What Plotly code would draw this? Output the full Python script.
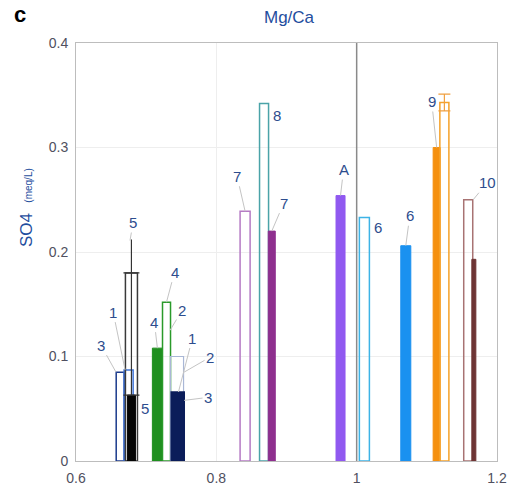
import plotly.graph_objects as go

# ---- data ----
bar_x = [0.663, 0.675, 0.679, 0.679, 0.716, 0.729, 0.744, 0.745, 0.841, 0.868, 0.879,
         0.977, 1.011, 1.070, 1.114, 1.125, 1.159, 1.167]
bar_y = [0.085, 0.087, 0.180, 0.063, 0.108, 0.152, 0.100, 0.066, 0.239, 0.342, 0.220,
         0.254, 0.233, 0.206, 0.300, 0.343, 0.250, 0.193]
bar_filled = [False, False, False, True, True, False, False, True, False, False, True,
              True, False, True, True, False, False, True]
bar_err_plus = [0, 0, 0.032, 0.117, 0, 0, 0, 0, 0, 0, 0, 0, 0, 0, 0, 0.008, 0, 0]
bar_err_minus = [0, 0, 0, 0, 0, 0, 0, 0, 0, 0, 0, 0, 0, 0, 0, 0.008, 0, 0]

label_text = ["3", "1", "5", "5", "4", "4", "2", "1", "2", "3", "7", "8", "7", "A",
              "6", "6", "9", "10"]
label_x = [0.657, 0.670, 0.677, 0.699, 0.716, 0.729, 0.734, 0.746, 0.754, 0.754, 0.841,
           0.887, 0.879, 0.977, 1.031, 1.070, 1.114, 1.166]
label_y = [0.085, 0.087, 0.211, 0.050, 0.108, 0.152, 0.125, 0.066, 0.085, 0.058, 0.239,
           0.331, 0.220, 0.254, 0.223, 0.206, 0.300, 0.250]

xticks = [0.6, 0.8, 1.0, 1.2]
xtick_text = ["0.6", "0.8", "1", "1.2"]
yticks = [0, 0.1, 0.2, 0.3, 0.4]
ytick_text = ["0", "0.1", "0.2", "0.3", "0.4"]

# ---- styles ----
px_per_unit = 700.0
bar_width_px = [8, 9, 12, 8, 10, 8, 13, 13, 10, 9, 7, 9, 10, 10, 7, 9, 9, 4]
bar_color = ["#1b3a8c", "#3f74d8", "#3a3a3a", "#050505", "#1f8f1f", "#2a9a2a",
             "#a9b7d6", "#0b1d5a", "#b57bc4", "#4aa3a8", "#8e2f8e", "#9059f0",
             "#3db3e6", "#1a91f0", "#f5900f", "#f5a22a", "#a87373", "#6e3535"]
bar_line_w = [1.5, 1.5, 1.5, 1, 1, 1.5, 1.2, 1.5, 1.5, 1.5, 1, 1, 1.5, 1, 1, 1.5, 1.5, 1]
bar_err_color = ["#333333"] * 15 + ["#f0a040", "#333333", "#333333"]
bar_err_cap = [0, 0, 0, 8, 0, 0, 0, 0, 0, 0, 0, 0, 0, 0, 0, 6, 0, 0]

label_ax = [-15, -12, 3, 0, -3, 8, 12, 14, 26, 24, -8, 0, 12, 3, 0, 4, -5, 14]
label_ay = [-27, -58, -18, 0, -26, -30, -20, -54, -15, -3, -35, 0, -28, -26, 0, -30, -46, -17]
label_arrow = [True, True, True, False, True, True, True, True, True, True, True, False,
               True, True, False, True, True, True]

fig = go.Figure()

for i in range(len(bar_x)):
    err = None
    if bar_err_plus[i] > 0 or bar_err_minus[i] > 0:
        err = dict(type="data", symmetric=False, array=[bar_err_plus[i]],
                   arrayminus=[bar_err_minus[i]], color=bar_err_color[i],
                   thickness=1.2, width=bar_err_cap[i])
    fig.add_trace(go.Bar(
        x=[bar_x[i]], y=[bar_y[i]],
        width=[bar_width_px[i] / px_per_unit],
        marker=dict(color=bar_color[i] if bar_filled[i] else "rgba(255,255,255,0)",
                    line=dict(color=bar_color[i], width=bar_line_w[i])),
        error_y=err,
        showlegend=False, hoverinfo="skip",
    ))

label_font = dict(family="Liberation Sans, Arial, sans-serif", size=15, color="#2d4d8e")
for i in range(len(label_text)):
    if label_arrow[i]:
        fig.add_annotation(x=label_x[i], y=label_y[i], xref="x", yref="y",
                           text=label_text[i], showarrow=True, arrowhead=0,
                           arrowwidth=1, arrowcolor="#c4c4c4", ax=label_ax[i],
                           ay=label_ay[i], font=label_font, standoff=0)
    else:
        fig.add_annotation(x=label_x[i], y=label_y[i], xref="x", yref="y",
                           text=label_text[i], showarrow=False, font=label_font)

# vertical line at Mg/Ca = 1
fig.add_shape(type="line", x0=1.0, x1=1.0, y0=0, y1=1, xref="x", yref="paper",
              line=dict(color="#8a8a8a", width=1.5))

fig.add_annotation(x=0.508, y=1.06, xref="paper", yref="paper", text="Mg/Ca",
                   xanchor="center", yanchor="middle", showarrow=False,
                   font=dict(family="Liberation Sans, Arial", size=17, color="#1f4e9e"))
fig.add_annotation(x=-0.133, y=1.067, xref="paper", yref="paper", text="<b>c</b>",
                   xanchor="center", yanchor="middle", showarrow=False,
                   font=dict(family="Liberation Sans, Arial", size=22, color="#000000"))
fig.add_annotation(x=-0.119, y=0.243, xref="paper", yref="y",
                   text="SO4 <span style='font-size:10px'>  (meq/L)</span>",
                   textangle=-90, showarrow=False, xanchor="center", yanchor="middle",
                   font=dict(family="Liberation Sans, Arial", size=17, color="#1f4e9e"))

axis_font = dict(family="Liberation Sans, Arial", size=14, color="#505060")
fig.update_layout(
    width=518, height=486,
    margin=dict(l=76, r=21, t=43, b=25),
    paper_bgcolor="white", plot_bgcolor="white",
    barmode="overlay",
    xaxis=dict(range=[0.6, 1.2], tickvals=xticks, ticktext=xtick_text,
               showgrid=True, gridcolor="#eeeeee", zeroline=False,
               showline=True, linecolor="#bdbdbd", mirror=True, linewidth=1,
               tickfont=axis_font, ticks="", ticklabelstandoff=4, automargin=False),
    yaxis=dict(range=[0, 0.4], tickvals=yticks, ticktext=ytick_text,
               showgrid=True, gridcolor="#eeeeee", zeroline=False,
               showline=True, linecolor="#bdbdbd", mirror=True, linewidth=1,
               tickfont=axis_font, ticks="", ticklabelstandoff=4, automargin=False),
)

fig.write_html("out.html")
